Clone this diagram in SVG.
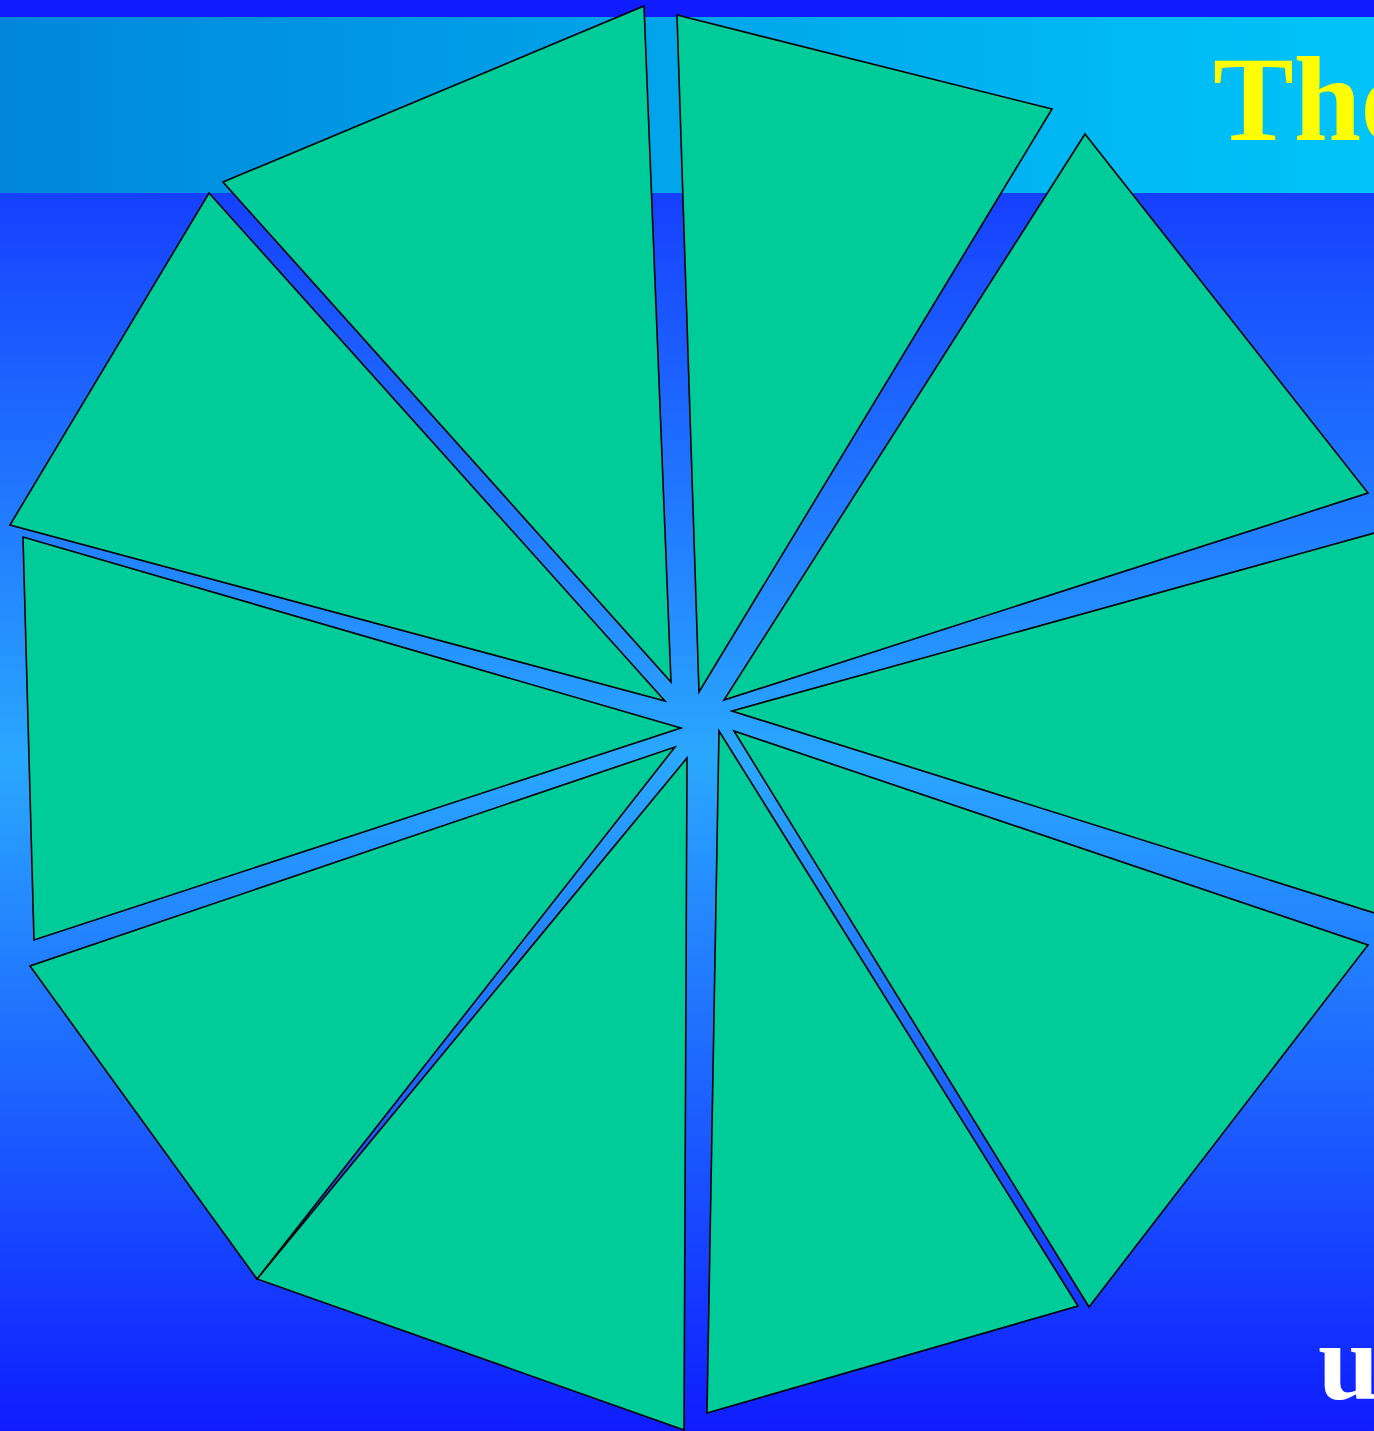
<svg xmlns="http://www.w3.org/2000/svg" width="1374" height="1431" viewBox="0 0 1374 1431">
<defs>
<linearGradient id="bg" x1="0" y1="0" x2="0" y2="1">
<stop offset="0" stop-color="#0f1cff"/>
<stop offset="0.53" stop-color="#2aa8ff"/>
<stop offset="1" stop-color="#0f1cff"/>
</linearGradient>
<linearGradient id="hdr" x1="0" y1="0" x2="1" y2="0">
<stop offset="0" stop-color="#0087dc"/>
<stop offset="1" stop-color="#00c4fa"/>
</linearGradient>
</defs>
<style>
.seg{fill:#00cc99;stroke:#000;stroke-width:1.6;stroke-linejoin:miter}
.t1{font-family:"Liberation Serif",serif;font-weight:bold;fill:#ffff00;font-size:121px}
.t2{font-family:"Liberation Serif",serif;font-weight:bold;fill:#ffffff;font-size:110px}
</style>
<rect x="0" y="0" width="1374" height="1431" fill="url(#bg)"/>
<rect x="0" y="0" width="1374" height="17" fill="#0f1cff"/>
<rect x="0" y="17" width="1374" height="176" fill="url(#hdr)"/>
<text class="t1" x="1213" y="140">The</text>
<text class="t2" x="1318" y="1399">u</text>
<g id="nodes">
<g id="s1"><polygon class="seg" points="223,182 644,6 671,682"/></g>
<g id="s2"><polygon class="seg" points="677,15 1052,109 699,692"/></g>
<g id="s3"><polygon class="seg" points="1085,134 1368,493 724,700"/></g>
<g id="s4"><polygon class="seg" points="732,711 1400,526 1400,921"/></g>
<g id="s5"><polygon class="seg" points="734,731 1368,945 1089,1307"/></g>
<g id="s6"><polygon class="seg" points="719,731 1078,1306 707,1413"/></g>
<g id="s7"><polygon class="seg" points="687,758 684,1430 257,1279"/></g>
<g id="s8"><polygon class="seg" points="675,747 257,1279 30,966"/></g>
<g id="s9"><polygon class="seg" points="681,728 34,940 23,537"/></g>
<g id="s10"><polygon class="seg" points="665,701 10,525 209,193"/></g>
</g>
<g id="connectors"></g>
</svg>
